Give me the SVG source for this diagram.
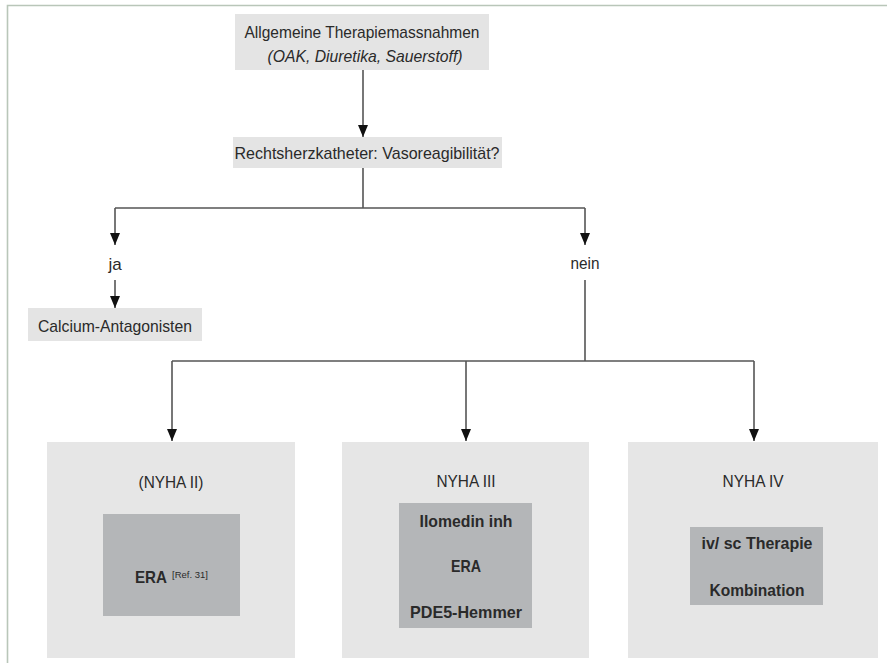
<svg xmlns="http://www.w3.org/2000/svg" width="887" height="663" viewBox="0 0 887 663">
<defs>
<marker id="ah" markerWidth="12" markerHeight="10" refX="12" refY="5" orient="auto" markerUnits="userSpaceOnUse" viewBox="0 0 12 10">
<path d="M0,0 L12,5 L0,10 Z" fill="#111"/>
</marker>
</defs>
<style>
text{font-family:"Liberation Sans",Arial,sans-serif;font-size:17px;fill:#2a2a2a;text-anchor:middle}
.it{font-style:italic}
.b{font-weight:bold;fill:#2a2a2a}
.sup{font-size:9.5px;text-anchor:start}
.lt{fill:#e4e4e4}
.big{fill:#e6e6e6}
.dk{fill:#b4b6b8}
.c{fill:none;stroke:#555;stroke-width:1.6}
.fr{fill:none;stroke:#b9c6b9;stroke-width:1.6}
</style>
<rect width="887" height="663" fill="#fff"/>
<path class="fr" d="M7.5,663 V5.5 H887"/>
<g id="n-allgemein">
<rect class="lt" x="235" y="14" width="254" height="56"/>
<text x="362" y="38" textLength="235" lengthAdjust="spacingAndGlyphs">Allgemeine Therapiemassnahmen</text>
<text class="it" x="365" y="62" textLength="195" lengthAdjust="spacingAndGlyphs">(OAK, Diuretika, Sauerstoff)</text>
</g>
<g id="n-rhk">
<rect class="lt" x="233" y="137" width="269" height="31"/>
<text x="367" y="159" textLength="265" lengthAdjust="spacingAndGlyphs">Rechtsherzkatheter: Vasoreagibilität?</text>
</g>
<g id="n-ja"><text x="115" y="270">ja</text></g>
<g id="n-nein"><text x="585" y="269" textLength="29" lengthAdjust="spacingAndGlyphs">nein</text></g>
<g id="n-calcium">
<rect class="lt" x="28" y="308" width="174" height="33"/>
<text x="115" y="332" textLength="154" lengthAdjust="spacingAndGlyphs">Calcium-Antagonisten</text>
</g>
<g id="n-nyha2">
<rect class="big" x="47" y="442" width="248" height="216"/>
<text x="171" y="488" textLength="65" lengthAdjust="spacingAndGlyphs">(NYHA II)</text>
<rect class="dk" x="103" y="514" width="137" height="102"/>
<text class="b" x="151" y="583" textLength="32" lengthAdjust="spacingAndGlyphs">ERA</text>
<text class="sup" x="172" y="578">[Ref. 31]</text>
</g>
<g id="n-nyha3">
<rect class="big" x="342" y="442" width="247" height="216"/>
<text x="466" y="487" textLength="59" lengthAdjust="spacingAndGlyphs">NYHA III</text>
<rect class="dk" x="399" y="503" width="133" height="125"/>
<text class="b" x="466" y="527" textLength="93" lengthAdjust="spacingAndGlyphs">Ilomedin inh</text>
<text class="b" x="466" y="572" textLength="30" lengthAdjust="spacingAndGlyphs">ERA</text>
<text class="b" x="466" y="618" textLength="112" lengthAdjust="spacingAndGlyphs">PDE5-Hemmer</text>
</g>
<g id="n-nyha4">
<rect class="big" x="628" y="442" width="250" height="216"/>
<text x="753" y="487" textLength="61" lengthAdjust="spacingAndGlyphs">NYHA IV</text>
<rect class="dk" x="690" y="527" width="133" height="78"/>
<text class="b" x="757" y="549" textLength="111" lengthAdjust="spacingAndGlyphs">iv/ sc Therapie</text>
<text class="b" x="757" y="596" textLength="95" lengthAdjust="spacingAndGlyphs">Kombination</text>
</g>
<g id="connectors">
<path class="c" d="M363,70 V137" marker-end="url(#ah)"/>
<path class="c" d="M363,168 V208 M115,208 H585"/>
<path class="c" d="M115,208 V245" marker-end="url(#ah)"/>
<path class="c" d="M585,208 V245" marker-end="url(#ah)"/>
<path class="c" d="M115,280 V308" marker-end="url(#ah)"/>
<path class="c" d="M585,280 V361 M172,361 H754"/>
<path class="c" d="M172,361 V441" marker-end="url(#ah)"/>
<path class="c" d="M466,361 V441" marker-end="url(#ah)"/>
<path class="c" d="M754,361 V441" marker-end="url(#ah)"/>
</g>
</svg>
